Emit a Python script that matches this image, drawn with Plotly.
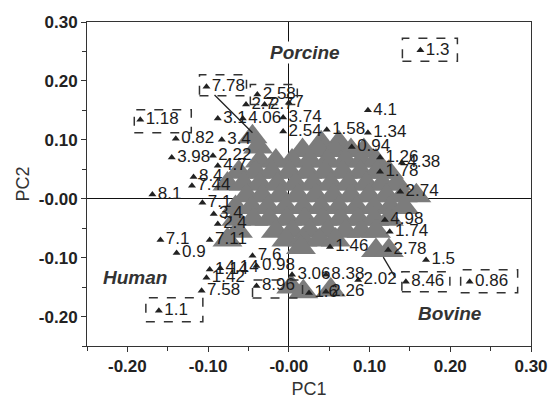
import plotly.graph_objects as go

# ---- labelled (isolated) samples: PC1, PC2, label ----
pt_x = [0.163, -0.102, -0.039, -0.184, -0.161, 0.145, 0.224, -0.040,
        -0.140, -0.145, -0.083, -0.088, -0.057, -0.007, -0.053, -0.030, 0.000,
        -0.007, 0.047, 0.098, 0.098, 0.078, 0.113, 0.140, 0.113, 0.138,
        0.119, 0.125, 0.051, 0.123, 0.170, 0.086, 0.004, 0.046, 0.025, 0.046,
        -0.045, -0.040, -0.159, -0.139, -0.102, -0.098, -0.085, -0.108,
        -0.169, -0.118, -0.120, -0.107, -0.093, -0.088, -0.098, -0.094, -0.088]
pt_y = [0.252, 0.190, 0.177, 0.134, -0.190, -0.141, -0.141, -0.148,
        0.102, 0.070, 0.100, 0.136, 0.136, 0.138, 0.160, 0.160, 0.163,
        0.114, 0.117, 0.150, 0.112, 0.088, 0.070, 0.061, 0.046, 0.012,
        -0.036, -0.056, -0.082, -0.087, -0.104, -0.138, -0.129, -0.129, -0.160, -0.158,
        -0.097, -0.114, -0.070, -0.092, -0.134, -0.120, -0.118, -0.156,
        0.007, 0.037, 0.022, -0.007, -0.026, -0.043, -0.070, 0.073, 0.056]
pt_lab = ["1.3", "7.78", "2.58", "1.18", "1.1", "8.46", "0.86", "8.96",
          "0.82", "3.98", "3.4", "3.1", "4.06", "3.74", "2.7", "2.7", "7",
          "2.54", "1.58", "4.1", "1.34", "0.94", "1.26", "4.38", "1.78", "2.74",
          "4.98", "1.74", "1.46", "2.78", "1.5", "2.02", "3.06", "8.38", "1.6", "2.26",
          "7.6", "0.98", "7.1", "0.9", "1.42", "1.14", "4.14", "7.58",
          "8.1", "8.4", "7.44", "7.1", "3.4", "2.4", "7.11", "2.22", "4.7"]

# ---- boxed labels (index into the samples above) and box extents in pixels ----
boxed_idx = [0, 1, 2, 3, 4, 5, 6, 7]
box_px = [(-18, 37, -11, 12), (-7, 40, -9, 12), (-7, 40, -10, 10), (-6, 51, -13, 10),
          (-13, 44, -11, 13), (-4, 44, -10, 10), (-9, 48, -11, 12), (-4, 46, -12, 6)]

# ---- leader lines (from label to cluster member) ----
lead_from_x = [-0.092, 0.132]
lead_from_y = [0.176, -0.134]
lead_to_x = [-0.045, 0.117]
lead_to_y = [0.112, -0.099]

# ---- dense overlapping cluster of samples ----
cl_x = [-0.045, 0.040, 0.062,
        -0.038, 0.017, 0.037, 0.057, 0.077, 0.093,
        -0.036, -0.016, 0.004, 0.026, 0.048, 0.070, 0.090, 0.108,
        -0.062, -0.041, -0.021, 0.001, 0.023, 0.045, 0.067, 0.089, 0.109, 0.124,
        -0.076, -0.056, -0.036, -0.014, 0.008, 0.030, 0.052, 0.074, 0.096, 0.116, 0.134,
        -0.052, -0.033, -0.011, 0.011, 0.033, 0.055, 0.077, 0.099, 0.121, 0.141, 0.158,
        -0.066, -0.046, -0.026, -0.004, 0.018, 0.040, 0.062, 0.084, 0.106, 0.126, 0.143,
        -0.065, -0.044, -0.024, -0.002, 0.020, 0.042, 0.064, 0.086, 0.106, 0.124,
        -0.063, -0.016, 0.004, 0.026, 0.048, 0.070, 0.090, 0.108,
        -0.076, -0.003, 0.017, 0.038, 0.058,
        0.015, 0.108, 0.124,
        0.003, 0.018, 0.052]
cl_y = [0.105, 0.095, 0.095,
        0.088, 0.082, 0.082, 0.082, 0.082, 0.082,
        0.064, 0.064, 0.064, 0.064, 0.064, 0.064, 0.064, 0.064,
        0.045, 0.045, 0.045, 0.045, 0.045, 0.045, 0.045, 0.045, 0.045, 0.045,
        0.025, 0.025, 0.025, 0.025, 0.025, 0.025, 0.025, 0.025, 0.025, 0.025, 0.025,
        0.005, 0.005, 0.005, 0.005, 0.005, 0.005, 0.005, 0.005, 0.005, 0.005, 0.005,
        -0.015, -0.015, -0.015, -0.015, -0.015, -0.015, -0.015, -0.015, -0.015, -0.015, -0.015,
        -0.035, -0.035, -0.035, -0.035, -0.035, -0.035, -0.035, -0.035, -0.035, -0.035,
        -0.055, -0.055, -0.055, -0.055, -0.055, -0.055, -0.055, -0.055,
        -0.070, -0.070, -0.070, -0.070, -0.070,
        -0.083, -0.088, -0.088,
        -0.150, -0.158, -0.155]

# ---- axis ticks ----
tick_vals = [-0.20, -0.10, 0.00, 0.10, 0.20, 0.30]
tick_text = ["-0.20", "-0.10", "-0.00", "0.10", "0.20", "0.30"]

# ---- region annotations ----
reg_text = ["Porcine", "Human", "Bovine"]
reg_x = [0.020, -0.191, 0.200]
reg_y = [0.248, -0.133, -0.194]

FONT = "Arial, Liberation Sans, sans-serif"

fig = go.Figure()
fig.add_trace(go.Scatter(
    x=cl_x, y=cl_y, mode="markers",
    marker=dict(symbol="triangle-up", size=26, color="#7c7c7c", line=dict(width=0)),
    hoverinfo="skip", showlegend=False))
fig.add_trace(go.Scatter(
    x=pt_x, y=pt_y, mode="markers+text", text=pt_lab, textposition="middle right",
    textfont=dict(family=FONT, size=17, color="#1c1c1c"),
    marker=dict(symbol="triangle-up", size=7, color="#222"),
    showlegend=False))

shapes = []
for i, (a, b, c, d) in zip(boxed_idx, box_px):
    shapes.append(dict(type="rect", xref="x", yref="y", xsizemode="pixel", ysizemode="pixel",
                       xanchor=pt_x[i], yanchor=pt_y[i], x0=a, x1=b, y0=c, y1=d,
                       line=dict(color="#333", width=1.5, dash="dash"), layer="above"))
for fx, fy, tx, ty in zip(lead_from_x, lead_from_y, lead_to_x, lead_to_y):
    shapes.append(dict(type="line", xref="x", yref="y", x0=fx, y0=fy, x1=tx, y1=ty,
                       line=dict(color="#222", width=1.3)))

annotations = [dict(x=x, y=y, xref="x", yref="y", text="<b><i>%s</i></b>" % t, showarrow=False,
                    bgcolor="white", borderpad=0,
                    font=dict(family=FONT, size=19, color="#333"))
               for t, x, y in zip(reg_text, reg_x, reg_y)]

axis_common = dict(range=[-0.25, 0.30], tickvals=tick_vals, ticktext=tick_text, automargin=False,
                   ticks="outside", ticklen=5, tickcolor="#333", tickwidth=1,
                   minor=dict(dtick=0.05, ticks="outside", ticklen=4, tickcolor="#333"),
                   showgrid=False, zeroline=True, zerolinecolor="#111", zerolinewidth=1.3,
                   showline=True, linecolor="#333", linewidth=1, mirror=True,
                   tickfont=dict(family=FONT, size=17, color="#222", weight="bold"))

fig.update_layout(
    width=552, height=406, margin=dict(l=87, r=21, t=22, b=60),
    plot_bgcolor="white", paper_bgcolor="white",
    xaxis=dict(**axis_common, title=dict(text="PC1", standoff=6,
               font=dict(family=FONT, size=18, color="#333"))),
    yaxis=dict(**axis_common, title=dict(text="PC2", standoff=4,
               font=dict(family=FONT, size=18, color="#333"))),
    shapes=shapes, annotations=annotations)

fig.write_html("out.html")
